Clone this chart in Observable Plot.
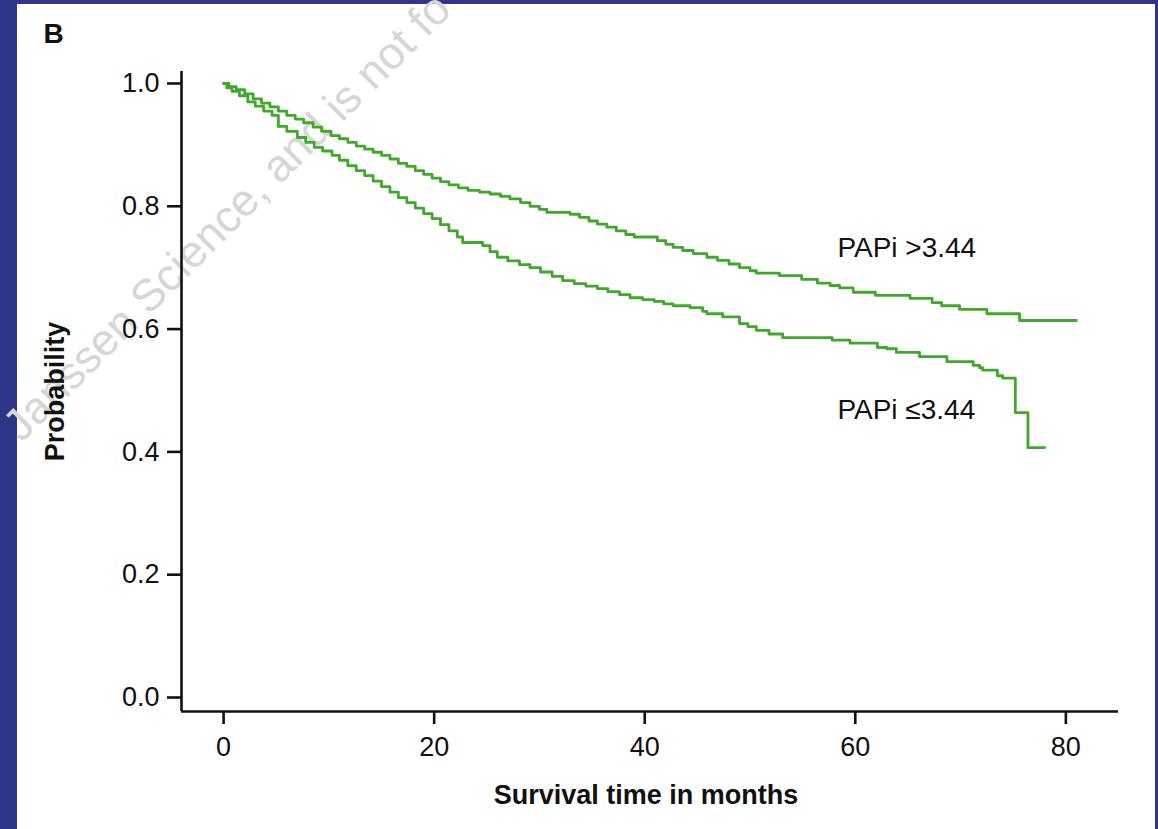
<!DOCTYPE html>
<html>
<head>
<meta charset="utf-8">
<script src="https://cdn.jsdelivr.net/npm/d3@7"></script>
<script src="https://cdn.jsdelivr.net/npm/@observablehq/plot@0.6"></script>
<style>
  html, body { margin: 0; padding: 0; width: 1158px; height: 829px; overflow: hidden; background: #2e3586; }
  #panel { position: absolute; left: 17px; top: 4px; width: 1138px; height: 825px; background: #ffffff; }
  #chart { position: absolute; left: 0; top: 0; }
</style>
</head>
<body>
<div id="panel"></div>
<div id="chart"></div>
<script>
// ---- data ----
const xTicks = [0, 20, 40, 60, 80];
const yTicks = [0, 0.2, 0.4, 0.6, 0.8, 1.0];
const xDomain = [-4, 85];
const yDomain = [-0.0228, 1.0195];

const highTime = [0, 0.5, 1.2, 2.0, 2.8, 3.6, 4.4, 5.2, 6.0, 6.8, 7.6, 8.5, 9.3, 10.2, 11.0, 11.8, 12.6, 13.4, 14.2, 15.0, 15.8, 16.6, 17.4, 18.2, 19.0, 19.8, 20.6, 21.4, 22.3, 23.2, 24.3, 25.3, 26.3, 27.2, 28.2, 29.1, 30.0, 30.7, 32.9, 33.8, 34.7, 35.5, 36.4, 37.3, 38.2, 39.0, 41.2, 42.0, 42.7, 43.6, 44.6, 45.9, 46.9, 48.0, 49.0, 50.0, 50.6, 52.8, 54.9, 56.4, 57.6, 58.5, 59.8, 61.9, 65.2, 67.3, 68.2, 69.9, 72.5, 75.6, 81.0];
const highSurv = [1.0, 0.995, 0.990, 0.983, 0.975, 0.968, 0.962, 0.955, 0.948, 0.942, 0.936, 0.929, 0.922, 0.915, 0.910, 0.904, 0.898, 0.893, 0.888, 0.883, 0.877, 0.870, 0.865, 0.858, 0.852, 0.846, 0.840, 0.835, 0.830, 0.826, 0.823, 0.820, 0.816, 0.812, 0.806, 0.800, 0.795, 0.790, 0.787, 0.782, 0.776, 0.771, 0.766, 0.760, 0.754, 0.750, 0.744, 0.738, 0.733, 0.728, 0.723, 0.717, 0.712, 0.706, 0.700, 0.695, 0.691, 0.687, 0.681, 0.675, 0.671, 0.667, 0.660, 0.655, 0.650, 0.643, 0.638, 0.632, 0.625, 0.614, 0.614];

const lowTime = [0, 0.3, 0.8, 1.5, 2.3, 3.0, 3.8, 4.6, 5.2, 6.0, 7.0, 7.8, 8.6, 9.4, 10.3, 11.0, 11.8, 12.6, 13.4, 14.2, 15.0, 15.8, 16.6, 17.4, 18.2, 19.0, 19.8, 20.6, 21.4, 22.2, 22.7, 24.6, 25.3, 26.0, 27.0, 28.1, 29.1, 30.1, 31.2, 32.2, 33.3, 34.4, 35.5, 36.5, 37.6, 38.6, 39.8, 40.9, 41.8, 42.7, 44.3, 45.5, 45.9, 47.4, 49.0, 49.8, 50.6, 51.8, 53.1, 57.8, 59.5, 62.1, 63.0, 63.9, 66.1, 68.7, 71.2, 71.8, 72.1, 73.5, 74.0, 75.2, 76.4, 78.0];
const lowSurv = [1.0, 0.993, 0.987, 0.980, 0.970, 0.963, 0.955, 0.948, 0.930, 0.922, 0.912, 0.904, 0.896, 0.890, 0.883, 0.875, 0.866, 0.858, 0.850, 0.841, 0.832, 0.823, 0.814, 0.806, 0.797, 0.788, 0.780, 0.770, 0.760, 0.750, 0.741, 0.736, 0.726, 0.717, 0.711, 0.705, 0.700, 0.693, 0.686, 0.679, 0.674, 0.670, 0.666, 0.661, 0.656, 0.651, 0.648, 0.645, 0.641, 0.638, 0.635, 0.629, 0.625, 0.620, 0.609, 0.604, 0.598, 0.592, 0.586, 0.582, 0.577, 0.570, 0.568, 0.562, 0.555, 0.547, 0.541, 0.537, 0.533, 0.524, 0.520, 0.464, 0.407, 0.407];

const groupLabels = ["PAPi >3.44", "PAPi \u22643.44"];
const labelTime = [58.3, 58.3];
const labelProb = [0.718, 0.454];

const panelLetter = "B";
const xTitle = "Survival time in months";
const yTitle = "Probability";
const watermark = "Janssen Science, and is not fo";

// ---- build tables ----
const high = highTime.map((t, i) => ({t, s: highSurv[i]}));
const low = lowTime.map((t, i) => ({t, s: lowSurv[i]}));
const labels = groupLabels.map((text, i) => ({text, t: labelTime[i], s: labelProb[i]}));

const green = "#40a82a";
const font = "'Liberation Sans', Arial, sans-serif";

const chart = Plot.plot({
  width: 1158,
  height: 829,
  marginLeft: 181,
  marginRight: 40,
  marginTop: 71,
  marginBottom: 118,
  x: {domain: xDomain},
  y: {domain: yDomain},
  style: {background: "transparent", fontFamily: font, color: "#111", overflow: "visible"},
  marks: [
    Plot.text([watermark], {frameAnchor: "top-left", dx: -160, dy: 372, rotate: -45,
      textAnchor: "start", lineAnchor: "bottom", fontSize: 45, fill: "#d6d6d6"}),
    Plot.ruleX([xDomain[0]], {strokeWidth: 2.6, stroke: "#111"}),
    Plot.ruleY([yDomain[0]], {strokeWidth: 2.6, stroke: "#111"}),
    Plot.axisX({ticks: xTicks, tickSize: 13, tickPadding: 12, fontSize: 27, strokeWidth: 2.6, label: null}),
    Plot.axisY({ticks: yTicks, tickFormat: d3.format(".1f"), tickSize: 14, tickPadding: 8, fontSize: 27, strokeWidth: 2.6, label: null}),
    Plot.line(high, {x: "t", y: "s", curve: "step-after", stroke: green, strokeWidth: 2.8}),
    Plot.line(low, {x: "t", y: "s", curve: "step-after", stroke: green, strokeWidth: 2.8}),
    Plot.text(labels, {x: "t", y: "s", text: "text", textAnchor: "start", lineAnchor: "bottom", fontSize: 28, fill: "#111"}),
    Plot.text([xTitle], {frameAnchor: "bottom", dx: -4, dy: 92, lineAnchor: "bottom", fontSize: 27, fontWeight: "bold", fill: "#111"}),
    Plot.text([yTitle], {frameAnchor: "left", dx: -118, dy: 0, rotate: -90, textAnchor: "middle", lineAnchor: "bottom", fontSize: 27, fontWeight: "bold", fill: "#111"}),
    Plot.text([panelLetter], {frameAnchor: "top-left", dx: -138, dy: -29, textAnchor: "start", lineAnchor: "bottom", fontSize: 28, fontWeight: "bold", fill: "#111"})
  ]
});
document.getElementById("chart").appendChild(chart);
</script>
</body>
</html>
